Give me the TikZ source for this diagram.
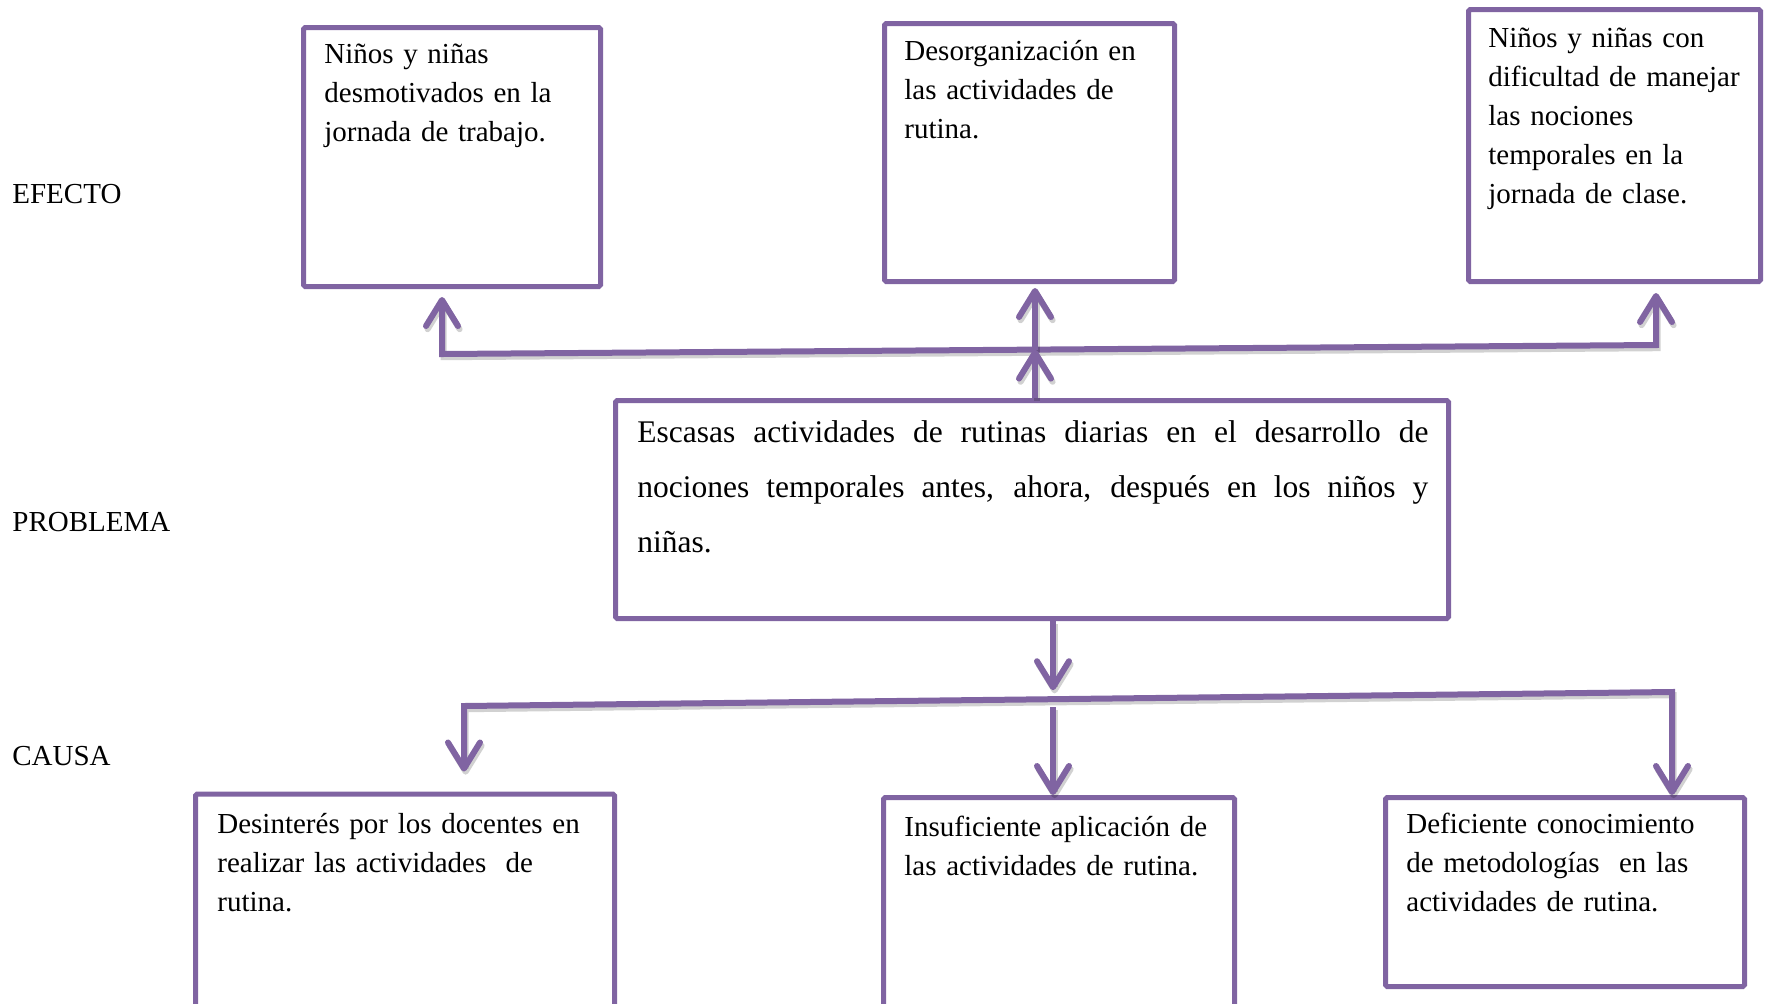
\documentclass[tikz,border=0pt]{standalone}
\usepackage{fontspec}
\setmainfont{Liberation Serif}
\usetikzlibrary{arrows.meta}
\definecolor{vio}{HTML}{8064A2}
\tikzset{
  box/.style={draw=vio, line width=2.5pt, rounded corners=0.8pt, fill=white, inner sep=0pt},
  boxtext/.style={anchor=base west, inner sep=0pt, align=left, text width=230pt,
    font=\fontsize{14.5pt}{19.5pt}\selectfont},
  lbl/.style={anchor=base west, inner sep=0pt, font=\fontsize{14.5pt}{17pt}\selectfont},
  conn/.style={draw=vio, line width=3pt, line join=miter,
    preaction={draw=black, opacity=0.18, line width=3pt,
      transform canvas={shift={(0.8pt,-1.6pt)}}}},
  barb/.tip={Straight Barb[length=13pt, width=16pt, round]},
}
\begin{document}
\begin{tikzpicture}[x=0.5pt, y=-0.5pt]
\useasboundingbox (0,0) rectangle (1768,1003);
\clip (0,0) rectangle (1768,1003);

% boxes
\node[box, minimum width=148.5pt, minimum height=129.5pt] (e1) at (452,157) {};
\node[box, minimum width=145pt, minimum height=129pt] (e2) at (1029.5,152.5) {};
\node[box, minimum width=146pt, minimum height=136pt] (e3) at (1614.5,145.5) {};
\node[box, minimum width=416.5pt, minimum height=109pt] (p) at (1032,509.5) {};
\node[box, minimum width=209.5pt, minimum height=109pt] (c1) at (405,903) {};
\node[box, minimum width=175.5pt, minimum height=107.5pt] (c2) at (1059,905) {};
\node[box, minimum width=179.5pt, minimum height=94.5pt] (c3) at (1565,892) {};

% texts
\node[boxtext] (te1) at (324,63) {Niños y niñas\\desmotivados en la\\jornada de trabajo.};
\node[boxtext] (te2) at (904,60) {Desorganización en\\las actividades de\\rutina.};
\node[boxtext] (te3) at (1488,47) {Niños y niñas con\\dificultad de manejar\\las nociones\\temporales en la\\jornada de clase.};
\node[anchor=base west, inner sep=0pt, align=justify, text width=395.5pt,
  font=\fontsize{15.75pt}{27.5pt}\selectfont] (tp) at (637,442)
  {Escasas actividades de rutinas diarias en el desarrollo de\linebreak nociones temporales antes, ahora, después en los niños y\linebreak niñas.};
\node[boxtext] (tc1) at (217,833) {Desinterés por los docentes en\\realizar las actividades\ \ de\\rutina.};
\node[boxtext] (tc2) at (904,836) {Insuficiente aplicación de\\las actividades de rutina.};
\node[boxtext] (tc3) at (1406,833) {Deficiente conocimiento\\de metodologías\ \ en las\\actividades de rutina.};

% row labels
\node[lbl] (lef) at (12,203) {EFECTO};
\node[lbl] (lpr) at (12,531) {PROBLEMA};
\node[lbl] (lca) at (12,765) {CAUSA};

% upper connectors
\coordinate (ul) at (442,354);
\coordinate (ur) at (1656,345);
\coordinate (um) at (1035,349.6);
\draw[conn, {barb}-{barb}, shorten <=4pt, shorten >=4.5pt]
  (ul |- e1.south) -- (ul) -- (ur) -- (ur |- e3.south);
\draw[conn, -{barb}, shorten >=2pt] (um) -- (um |- e2.south);
\draw[conn, -{barb}] (p.north -| um) -- (um);

% lower connectors
\coordinate (dl) at (464,706);
\coordinate (dr) at (1672,692);
\coordinate (dm) at (1053,699.2);
\draw[conn, -{barb}, shorten >=4.5pt] (p.south -| dm) -- (dm);
\draw[conn, {barb}-{barb}, shorten <=10pt]
  (dl |- c1.north) -- (dl) -- (dr) -- (dr |- c3.north);
\draw[conn, -{barb}, shorten <=4pt] (dm) -- (dm |- c2.north);
\end{tikzpicture}
\end{document}
